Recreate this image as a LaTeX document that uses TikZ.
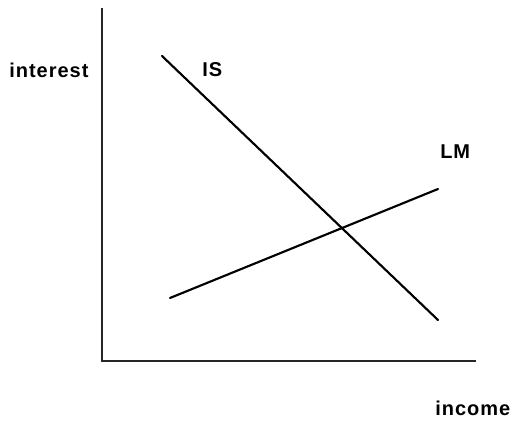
\documentclass[tikz,border=0pt]{standalone}
\usepackage{fontspec}
\newfontfamily\lblfont[LetterSpace=5]{Liberation Sans Bold}
\usetikzlibrary{positioning}

\begin{document}
\begin{tikzpicture}[
  x=0.75pt,y=-0.75pt,
  axis/.style={line width=0.9pt,draw=black!85},
  curve/.style={line width=1.6pt,draw=black,line cap=round},
  lbl/.style={font=\lblfont\fontsize{15}{17}\selectfont,anchor=base west,inner sep=0pt}
]
\useasboundingbox (0,0) rectangle (510,423);

% -------------------------------------------------------------------------
% axes
% -------------------------------------------------------------------------
\coordinate (top) at (102,8);
\coordinate (origin) at (102,361);
\coordinate (right) at (476,361);
\draw[axis] (top) -- (origin) -- (right);

% -------------------------------------------------------------------------
% IS and LM curves
% -------------------------------------------------------------------------
\coordinate (isstart) at (162,56);
\coordinate (isend) at (438,320);
\coordinate (lmstart) at (170,298);
\coordinate (lmend) at (438,189);
\draw[curve] (isstart) -- (isend);
\draw[curve] (lmstart) -- (lmend);

% labels
\node[lbl] (interest) at (9,78) {interest};
\node[lbl] (islabel) at (202,77) {IS};
\node[lbl] (lmlabel) at (440,159) {LM};
\node[lbl] (income) at (435,416) {income};
\end{tikzpicture}
\end{document}
